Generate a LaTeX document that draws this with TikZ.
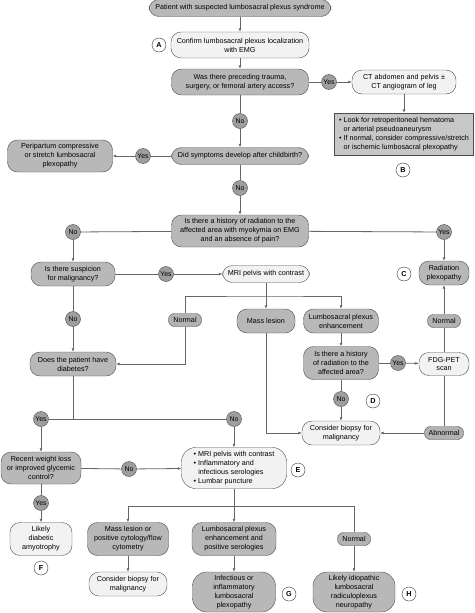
\documentclass[tikz,border=0pt]{standalone}
\usepackage{fontspec}
\setsansfont{Liberation Sans}
\usetikzlibrary{arrows.meta}

\begin{document}
\begin{tikzpicture}[x=1pt,y=-1pt,font=\sffamily\fontsize{7.2}{8.9}\selectfont,qbox/.style={draw=black!70,fill=black!28,rounded corners=10pt,align=center,inner sep=2pt},abox/.style={draw=black!70,fill=black!5,rounded corners=10pt,align=center,inner sep=2pt},yn/.style={draw=black!70,fill=black!38,circle,inner sep=0.6pt,minimum size=15pt,font=\sffamily\fontsize{6.9}{8}\selectfont},tag/.style={draw=black!80,fill=white,circle,inner sep=0pt,minimum size=14pt,font=\sffamily\bfseries\fontsize{7.2}{8}\selectfont},pill/.style={draw=black!70,fill=black!30,rounded corners=6pt,minimum width=33pt,minimum height=13pt,inner sep=1pt},notebox/.style={draw=black!70,fill=black!22,align=left,inner sep=3pt},arr/.style={-{Latex[length=3.5pt,width=3pt]},draw=black!60,line width=0.8pt},ln/.style={draw=black!60,line width=0.8pt}]
\useasboundingbox (0,0) rectangle (474,613);
\node[qbox,minimum width=182pt,minimum height=17pt] (start) at (240,8){Patient with suspected lumbosacral plexus syndrome};
\node[tag] (tagA) at (159,45){A};
\node[abox,minimum width=138pt,minimum height=26pt] (emg) at (240,45){Confirm lumbosacral plexus localization\\with EMG};
\node[qbox,minimum width=137pt,minimum height=26pt] (trauma) at (240,82){Was there preceding trauma,\\surgery, or femoral artery access?};
\node[yn] (yes1) at (329,82){Yes};
\node[abox,minimum width=104pt,minimum height=24pt] (ct) at (404,82){CT abdomen and pelvis ±\\CT angiogram of leg};
\node[notebox,minimum width=139pt,minimum height=42pt] (look) at (404,134){\textbullet\ Look for retroperitoneal hematoma\\\hphantom{\textbullet\ }or arterial pseudoaneurysm\\\textbullet\ If normal, consider compressive/stretch\\\hphantom{\textbullet\ }or ischemic lumbosacral plexopathy};
\node[yn] (no1) at (240,121){No};
\node[qbox,minimum width=137pt,minimum height=17pt] (birth) at (240,156){Did symptoms develop after childbirth?};
\node[yn] (yes2) at (143,156){Yes};
\node[qbox,minimum width=105pt,minimum height=32pt] (peri) at (60,156){Peripartum compressive\\or stretch lumbosacral\\plexopathy};
\node[tag] (tagB) at (403,170){B};
\node[yn] (no2) at (240,188){No};
\node[qbox,minimum width=137pt,minimum height=32pt] (radhx) at (240,231){Is there a history of radiation to the\\affected area with myokymia on EMG\\and an absence of pain?};
\node[yn] (no3) at (73,232){No};
\node[yn] (yes3) at (444,232){Yes};
\node[qbox,minimum width=50pt,minimum height=24pt] (radplex) at (444,273){Radiation\\plexopathy};
\node[tag] (tagC) at (404,274){C};
\node[qbox,minimum width=84pt,minimum height=24pt] (malig) at (73,274){Is there suspicion\\for malignancy?};
\node[yn] (yes4) at (166,274){Yes};
\node[abox,minimum width=87pt,minimum height=17pt] (mri) at (266,274){MRI pelvis with contrast};
\coordinate (split1) at (266,296);
\node[pill] (normal1) at (185,320){Normal};
\node[qbox,minimum width=58pt,minimum height=24pt] (mass) at (266,321){Mass lesion};
\node[qbox,minimum width=75pt,minimum height=24pt] (lspe) at (341,321){Lumbosacral plexus\\enhancement};
\node[pill] (normal2) at (444,321){Normal};
\node[yn] (no4) at (73,319){No};
\node[qbox,minimum width=86pt,minimum height=24pt] (diab) at (73,364){Does the patient have\\diabetes?};
\node[qbox,minimum width=75pt,minimum height=33pt] (radhx2) at (341,363){Is there a history\\of radiation to the\\affected area?};
\node[yn] (yes5) at (398,363){Yes};
\node[abox,minimum width=50pt,minimum height=23pt] (pet) at (444,364){FDG-PET\\scan};
\node[yn] (no5) at (341,399){No};
\node[tag] (tagD) at (373,401){D};
\node[abox,minimum width=78pt,minimum height=24pt] (biopsy1) at (341,433){Consider biopsy for\\malignancy};
\node[pill,minimum width=39pt] (abn) at (444,433){Abnormal};
\coordinate (split2) at (73,419);
\node[yn] (yes6) at (41,419){Yes};
\node[yn] (no6) at (234,419){No};
\node[qbox,minimum width=80pt,minimum height=32pt] (weight) at (41,468){Recent weight loss\\or improved glycemic\\control?};
\node[yn] (no7) at (129,469){No};
\node[abox,align=left,minimum width=105pt,minimum height=41pt,rounded corners=14pt] (workup) at (234,468){\textbullet\ MRI pelvis with contrast\\\textbullet\ Inflammatory and\\\hphantom{\textbullet\ }infectious serologies\\\textbullet\ Lumbar puncture};
\node[tag] (tagE) at (298,470){E};
\node[yn] (yes7) at (41,503){Yes};
\node[abox,minimum width=62pt,minimum height=33pt] (amyo) at (41,539){Likely\\diabetic\\amyotrophy};
\node[tag] (tagF) at (41,568){F};
\coordinate (split3) at (234,506);
\node[qbox,minimum width=81pt,minimum height=33pt] (cyto) at (128,539){Mass lesion or\\positive cytology/flow\\cytometry};
\node[qbox,minimum width=84pt,minimum height=33pt] (lspe2) at (234,539){Lumbosacral plexus\\enhancement and\\positive serologies};
\node[pill] (normal3) at (354,539){Normal};
\node[abox,minimum width=78pt,minimum height=24pt] (biopsy2) at (128,584){Consider biopsy for\\malignancy};
\node[qbox,minimum width=83pt,minimum height=40pt,rounded corners=14pt] (infl) at (234,592){Infectious or\\inflammatory\\lumbosacral\\plexopathy};
\node[tag] (tagG) at (289,594){G};
\node[qbox,minimum width=82pt,minimum height=40pt,rounded corners=14pt] (idio) at (354,592){Likely idiopathic\\lumbosacral\\radiculoplexus\\neuropathy};
\node[tag] (tagH) at (409,594){H};
\draw[arr] (start) -- (emg);\draw[arr] (emg) -- (trauma);\draw[ln] (trauma) -- (yes1);\draw[arr] (yes1) -- (ct);\draw[arr] (ct) -- (look);
\draw[ln] (trauma) -- (no1);\draw[arr] (no1) -- (birth);\draw[ln] (birth) -- (yes2);\draw[arr] (yes2) -- (peri);\draw[ln] (birth) -- (no2);\draw[arr] (no2) -- (radhx);
\draw[ln] (radhx) -- (no3);\draw[arr] (no3) -- (malig);\draw[ln] (radhx) -- (yes3);\draw[arr] (yes3) -- (radplex);
\draw[ln] (malig) -- (yes4);\draw[arr] (yes4) -- (mri);\draw[arr] (mri) -- (mass);\draw[arr] (normal1) |- (split1) -| (lspe);\draw[arr] (normal1) |- (diab);
\draw[ln] (malig) -- (no4);\draw[arr] (no4) -- (diab);\draw[arr] (lspe) -- (radhx2);\draw[ln] (radhx2) -- (yes5);\draw[arr] (yes5) -- (pet);\draw[ln] (radhx2) -- (no5);\draw[arr] (no5) -- (biopsy1);
\draw[arr] (mass) |- (biopsy1);\draw[ln] (pet) -- (normal2);\draw[arr] (normal2) -- (radplex);\draw[ln] (pet) -- (abn);\draw[arr] (abn) -- (biopsy1);
\draw[ln] (diab) -- (split2);\draw[ln] (yes6) -- (no6);\draw[arr] (yes6) -- (weight);\draw[arr] (no6) -- (workup);\draw[ln] (weight) -- (no7);\draw[arr] (no7) -- (workup);\draw[ln] (weight) -- (yes7);\draw[arr] (yes7) -- (amyo);
\draw[arr] (workup) -- (lspe2);\draw[arr] (split3) -| (cyto);\draw[ln] (split3) -| (normal3);\draw[arr] (normal3) -- (idio);\draw[arr] (cyto) -- (biopsy2);\draw[arr] (lspe2) -- (infl);
\end{tikzpicture}
\end{document}
